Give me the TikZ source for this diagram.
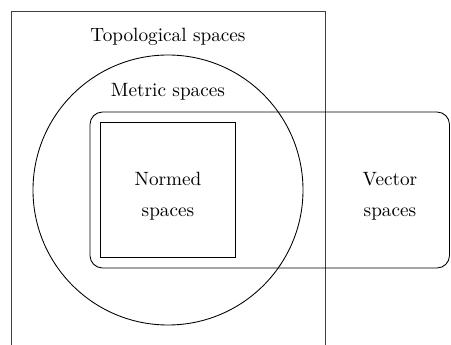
\documentclass[tikz,border=0pt]{standalone}
\begin{document}
\begin{tikzpicture}[x=0.52pt,y=-0.52pt,
  region/.style={draw=black, line width=0.45pt},
  label/.style={inner sep=0pt, align=center, font=\normalsize}]
\useasboundingbox (0,0) rectangle (451,345);
% topological spaces (open at the bottom)
\draw[draw=black!75, line width=0.5pt] (11,345) -- (11,11) -- (325,11) -- (325,345);
% metric spaces
\draw[region] (168,190) circle[radius=135*0.52pt];
% vector spaces
\draw[region, rounded corners=6.5pt] (90,112) rectangle (449.5,268);
% normed spaces
\draw[region] (100,122) rectangle (235,257);
\node[label] (top) at (168,37) {Topological spaces};
\node[label] (met) at (168,92) {Metric spaces};
\node[label] (norm) at (168,196) {Normed\\[4pt]spaces};
\node[label] (vec) at (390,196) {Vector\\[4pt]spaces};
\end{tikzpicture}
\end{document}
